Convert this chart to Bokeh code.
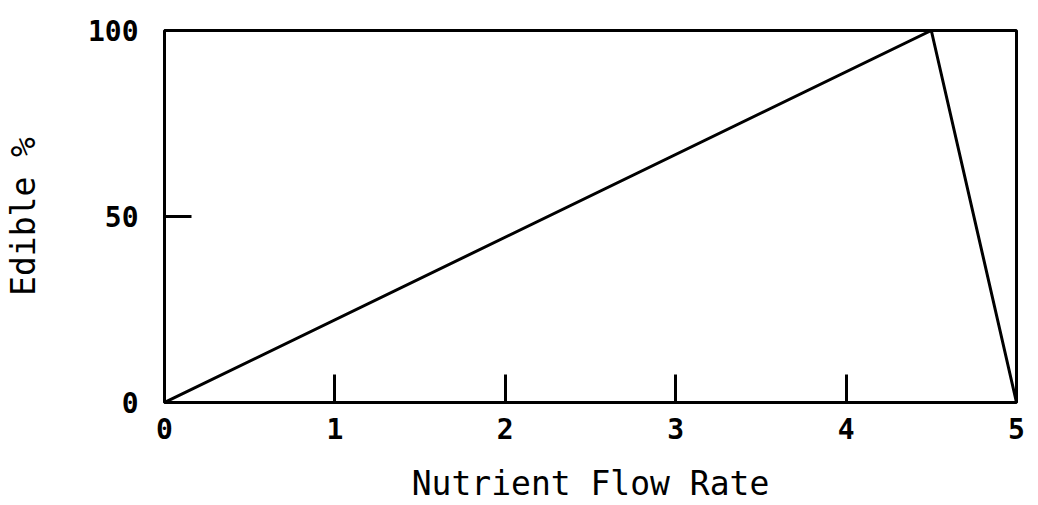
from bokeh.plotting import figure
from bokeh.models import Range1d, FixedTicker
from bokeh.embed import file_html
from bokeh.resources import INLINE

flow_rate = [0, 4.5, 5]
edible_pct = [0, 100, 0]
x_ticks = [0, 1, 2, 3, 4, 5]
y_ticks = [0, 50, 100]

p = figure(width=1030, height=505, output_backend="svg", toolbar_location=None,
           x_range=Range1d(0, 5), y_range=Range1d(0, 100),
           min_border_left=163, min_border_right=14, min_border_top=30, min_border_bottom=97)
p.grid.visible = False
p.background_fill_color = "white"
p.border_fill_color = "white"
p.outline_line_color = "black"
p.outline_line_width = 3

p.line(flow_rate, edible_pct, line_color="black", line_width=3)

FONT = "DejaVu Sans Mono"
for ax in (p.xaxis[0], p.yaxis[0]):
    ax.axis_line_color = None
    ax.major_tick_line_color = "black"
    ax.major_tick_line_width = 3
    ax.major_tick_out = 0
    ax.minor_tick_line_color = None
    ax.major_label_text_font = FONT
    ax.major_label_text_font_style = "bold"
    ax.major_label_text_font_size = "28px"
    ax.major_label_text_color = "black"
    ax.major_label_text_line_height = 1.0
    ax.axis_label_text_font = FONT
    ax.axis_label_text_font_style = "normal"
    ax.axis_label_text_font_size = "33px"
    ax.axis_label_text_color = "black"
    ax.axis_label_text_line_height = 1.0

p.xaxis.ticker = FixedTicker(ticks=x_ticks)
p.yaxis.ticker = FixedTicker(ticks=y_ticks)
p.xaxis.major_tick_in = 28
p.yaxis.major_tick_in = 27
p.xaxis.major_label_standoff = 15
p.yaxis.major_label_standoff = 26
p.xaxis.axis_label = "Nutrient Flow Rate"
p.yaxis.axis_label = "Edible %"
p.xaxis.axis_label_standoff = 22
p.yaxis.axis_label_standoff = 42

open("out.html", "w").write(file_html(p, INLINE))
